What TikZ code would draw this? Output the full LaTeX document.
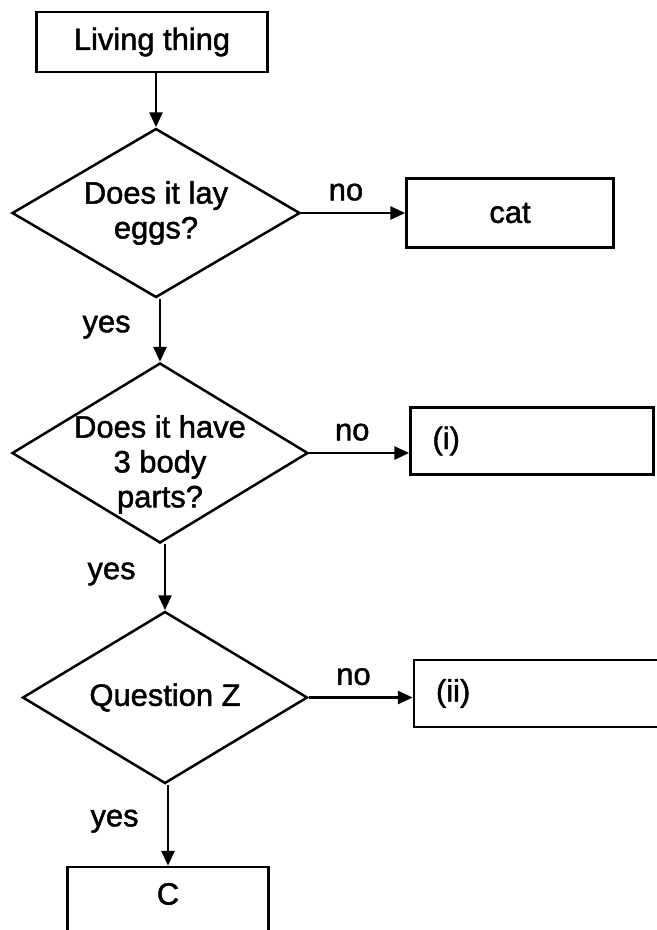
\documentclass[tikz,border=0pt]{standalone}
\usepackage{fontspec}
\setmainfont{Liberation Sans}[FakeBold=1.5]
\usetikzlibrary{positioning,arrows.meta,shapes.geometric}

\begin{document}
\begin{tikzpicture}[
  x=1bp, y=1bp,
  font=\fontsize{31}{35}\selectfont,
  box/.style={rectangle, draw=black, line width=2.5bp, fill=white, inner sep=0pt,
    align=center, text=black},
  answerbox/.style={box, minimum height=67bp, text width=199bp, align=left, inner xsep=22bp},
  decision/.style={diamond, draw=black, line width=2.5bp, fill=white, inner sep=-12bp,
    aspect=1.7, align=center, text=black},
  flow/.style={-{Triangle[length=15bp, width=13bp]}, draw=black, line width=2.8bp},
  answer/.style={inner sep=0pt, text=black},
]
\useasboundingbox (0,0) rectangle (657,-930);
\clip (0,0) rectangle (657,-930);

% ---- main column ----
\node[box, minimum width=231bp, minimum height=60bp] (living) at (152,-42) {Living thing};

\node[decision, minimum width=288bp, minimum height=169bp, below=54bp of living, xshift=4bp] (eggs)
  {Does it lay\\eggs?};

\node[decision, minimum width=296bp, minimum height=180bp, inner sep=-22bp, text height=115bp,
  below=63bp of eggs, xshift=4bp] (body)
  {Does it have\\3 body\\parts?};

\node[decision, minimum width=285bp, minimum height=172bp, below=66bp of body, xshift=5bp] (questz)
  {Question Z};

\node[box, minimum width=201bp, inner ysep=16bp, text depth=22bp, below=81bp of questz, xshift=3bp] (cbox)
  {C};

% ---- answers on the right ----
\node[box, minimum width=207bp, minimum height=69bp, right=104bp of eggs] (cat) {cat};

\node[answerbox, right=100bp of body, yshift=12bp] (first) {(i)};

\node[answerbox, text width=216bp, right=104bp of questz, yshift=4bp] (second) {(ii)};

% ---- yes edges ----
\draw[flow] (eggs.north |- living.south) -- (eggs.north);

\draw[flow] (body.north |- eggs.south) -- (body.north)
  node[answer, pos=0.45, left=28bp] {yes};

\draw[flow] (questz.north |- body.south) -- (questz.north)
  node[answer, pos=0.45, left=28bp] {yes};

\draw[flow] (cbox.north |- questz.south) -- (cbox.north)
  node[answer, pos=0.45, left=28bp] {yes};

% ---- no edges ----
\draw[flow] (eggs.east) -- (eggs.east -| cat.west)
  node[answer, pos=0.43, above=11bp] {no};

\draw[flow] (body.east) -- (body.east -| first.west)
  node[answer, pos=0.43, above=11bp] {no};

\draw[flow] (questz.east) -- (questz.east -| second.west)
  node[answer, pos=0.43, above=11bp] {no};

\end{tikzpicture}
\end{document}
